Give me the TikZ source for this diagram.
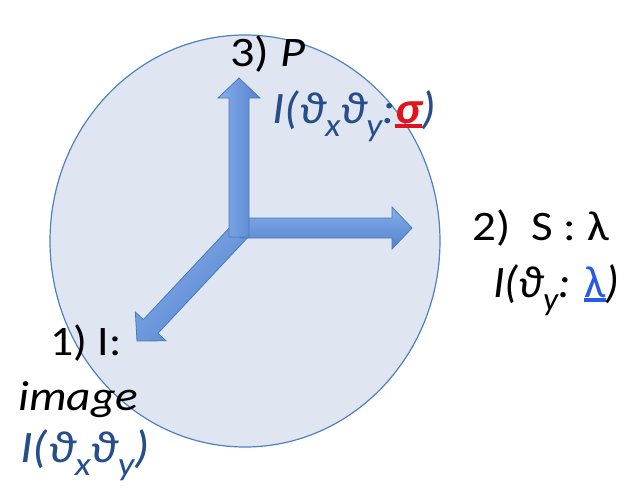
\documentclass[tikz,border=0pt]{standalone}
\usepackage{fontspec}
\setmainfont{Carlito}
\usetikzlibrary{calc}

\definecolor{ovalfill}{RGB}{223,230,241}
\definecolor{ovalline}{RGB}{79,129,189}
\definecolor{arrowlight}{RGB}{135,174,234}
\definecolor{arrowdark}{RGB}{84,130,206}
\definecolor{arrowline}{RGB}{72,122,185}
\definecolor{textblue}{RGB}{38,78,138}
\definecolor{linkblue}{RGB}{40,90,230}
\definecolor{markred}{RGB}{225,20,30}

% lowered subscript
\newcommand\lowsub[1]{\raisebox{-0.3em}{\fontsize{33}{33}\selectfont #1}}
% stretched label text
\newcommand\wide[2]{\scalebox{#1}[1]{#2}}
% underline in the current colour
\newcommand\markline[1]{\setbox0\hbox{#1}\rlap{\rule[-0.1em]{\wd0}{0.07em}}\box0}

% block arrow between two named coordinates, #1 = shading angle
\newcommand\blockarrow[3]{%
  \draw[arrowbody, shading angle=#1]
    ($(#2)!10pt!90:(#3)$) --
    ($($(#3)!20pt!(#2)$)!10pt!-90:(#2)$) --
    ($($(#3)!20pt!(#2)$)!21pt!-90:(#2)$) --
    (#3) --
    ($($(#3)!20pt!(#2)$)!21pt!90:(#2)$) --
    ($($(#3)!20pt!(#2)$)!10pt!90:(#2)$) --
    ($(#2)!10pt!-90:(#3)$) -- cycle;}

\begin{document}
\begin{tikzpicture}[
    x=1pt,
    y=-1pt,
    arrowbody/.style={top color=arrowlight, bottom color=arrowdark, draw=arrowline, line width=0.8pt, line join=miter},
    label/.style={anchor=base west, inner sep=0pt, font=\fontsize{42}{46}\selectfont},
    info/.style={label, text=textblue, font=\fontsize{45}{50}\selectfont\itshape}
]
\useasboundingbox (0,0) rectangle (635,491);

% Oval
\draw[fill=ovalfill, draw=ovalline, line width=1.2pt] (245,241) ellipse [x radius=195, y radius=206];

% Axes
\coordinate (baseI) at (242,229);
\coordinate (baseS) at (240,228);
\coordinate (baseP) at (239,237);
\coordinate (tipI) at (137,341);
\coordinate (tipS) at (412,228);
\coordinate (tipP) at (239,78);

\blockarrow{45}{baseI}{tipI}
\blockarrow{0}{baseS}{tipS}
\blockarrow{90}{baseP}{tipP}

% Labels
\node[label] (labP) at (230,66) {\wide{1.15}{3) \textit{P}}};
\node[info] (infoP) at (272,123)
    {\wide{1.08}{I(ϑ\lowsub{x}ϑ\lowsub{y}:\textcolor{markred}{\markline{\textbf{σ}}})}};

\node[label] (labS) at (472,240) {\wide{1.12}{2)\ \ S : λ}};
\node[info, text=black] (infoS) at (493,297)
    {\wide{1.02}{I(ϑ\lowsub{y}: \textcolor{linkblue}{\markline{\textup{λ}}})}};

\node[label] (labI) at (50,355) {\wide{1.09}{1) I:}};
\node[label] (imgI) at (18,410) {\wide{1.13}{\textit{image}}};
\node[info] (infoI) at (20,462)
    {\wide{1.12}{I(ϑ\lowsub{x}ϑ\lowsub{y})}};

\end{tikzpicture}
\end{document}
